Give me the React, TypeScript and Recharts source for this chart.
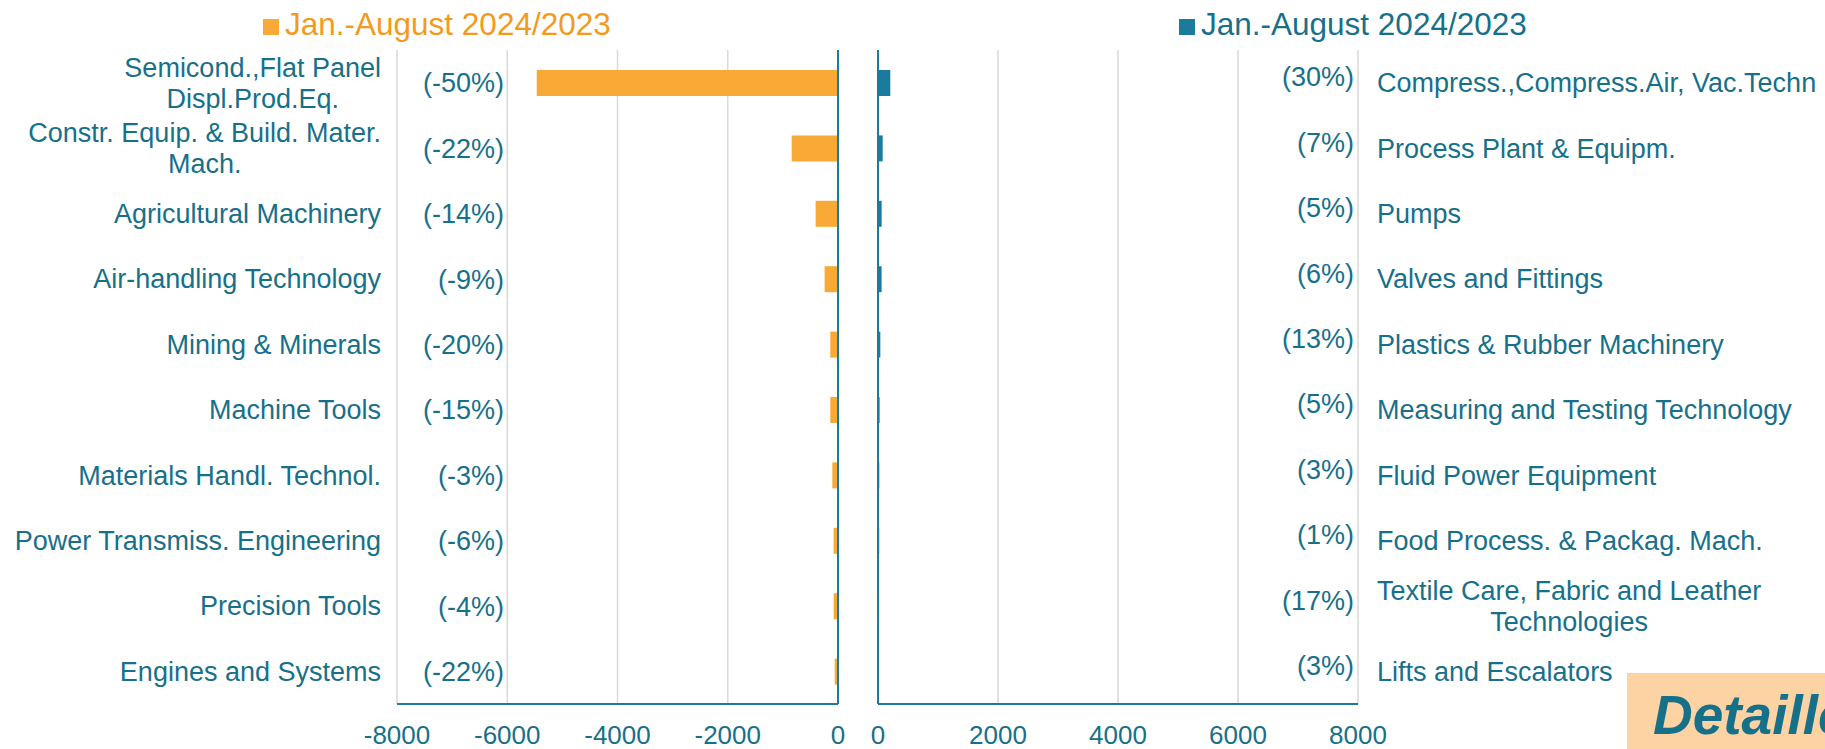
import React from "react";
import {
  BarChart,
  Bar,
  XAxis,
  YAxis,
  CartesianGrid,
  ReferenceLine,
  LabelList,
  Legend,
} from "recharts";

// --- data (values in the chart's own units) ---
const seriesName = "Jan.-August 2024/2023";

const leftCategories = [
  "Semicond.,Flat Panel\nDispl.Prod.Eq.",
  "Constr. Equip. & Build. Mater.\nMach.",
  "Agricultural Machinery",
  "Air-handling Technology",
  "Mining & Minerals",
  "Machine Tools",
  "Materials Handl. Technol.",
  "Power Transmiss. Engineering",
  "Precision Tools",
  "Engines and Systems",
];
const leftValues = [-5465, -840, -406, -243, -140, -140, -103, -80, -79, -60];
const leftChanges = ["(-50%)", "(-22%)", "(-14%)", "(-9%)", "(-20%)", "(-15%)", "(-3%)", "(-6%)", "(-4%)", "(-22%)"];

const rightCategories = [
  "Compress.,Compress.Air, Vac.Techn",
  "Process Plant & Equipm.",
  "Pumps",
  "Valves and Fittings",
  "Plastics & Rubber Machinery",
  "Measuring and Testing Technology",
  "Fluid Power Equipment",
  "Food Process. & Packag. Mach.",
  "Textile Care, Fabric and Leather\nTechnologies",
  "Lifts and Escalators",
];
const rightValues = [205, 78, 61, 60, 39, 27, 22, 20, 18, 15];
const rightChanges = ["(30%)", "(7%)", "(5%)", "(6%)", "(13%)", "(5%)", "(3%)", "(1%)", "(17%)", "(3%)"];

const leftTicks = [-8000, -6000, -4000, -2000, 0];
const rightTicks = [0, 2000, 4000, 6000, 8000];

// --- look ---
const W = 1825;
const H = 749;
const FONT = '"Liberation Sans", Arial, sans-serif';
const ORANGE = "#f9a935";
const ORANGE_TEXT = "#f39a1c";
const TEAL = "#1a7b9c";
const TEXT = "#17708a";
const GRID = "#d9d9d9";
const LABEL_SIZE = 27;
const LINE_H = 31;
const LEGEND_SIZE = 31.5;

// plot boxes (page pixels)
const TOP = 50;
const X_AXIS_H = 45;
const LEFT_PLOT = { x0: 397, x1: 838 };
const RIGHT_PLOT = { x0: 878, x1: 1358 };

const leftData = leftCategories.map((name, i) => ({ name, value: leftValues[i], change: leftChanges[i] }));
const rightData = rightCategories.map((name, i) => ({ name, value: rightValues[i], change: rightChanges[i] }));

let ctx: CanvasRenderingContext2D | null = null;
function textWidth(s: string, size: number) {
  if (!ctx) ctx = document.createElement("canvas").getContext("2d");
  if (!ctx) return s.length * size * 0.5;
  ctx.font = `${size}px ${FONT}`;
  return ctx.measureText(s).width;
}

// multi-line labels are centred line by line, the block is aligned to the axis
function CategoryTick(props: any) {
  const { x, y, payload, side } = props;
  const lines = String(payload.value).split("\n");
  const multi = lines.length > 1;
  const w = Math.max(...lines.map((l) => textWidth(l, LABEL_SIZE)));
  const tx = multi ? (side === "left" ? x - w / 2 : x + w / 2) : x;
  const anchor = multi ? "middle" : side === "left" ? "end" : "start";
  const y0 = y - ((lines.length - 1) * LINE_H) / 2;
  return (
    <text x={tx} y={y0} textAnchor={anchor} fill={TEXT} fontSize={LABEL_SIZE} fontFamily={FONT}>
      {lines.map((l, i) => (
        <tspan key={i} x={tx} dy={i === 0 ? "0.35em" : LINE_H}>
          {l}
        </tspan>
      ))}
    </text>
  );
}

const tickStyle = { fill: TEXT, fontSize: 26, fontFamily: FONT };

export default function App() {
  return (
    <div style={{ position: "relative", width: W, height: H, overflow: "hidden", fontFamily: FONT, background: "#fff" }}>
      <style>{"body{margin:0}"}</style>

      {/* left half: decreases */}
      <div style={{ position: "absolute", left: 0, top: 0 }}>
        <BarChart
          width={W}
          height={H}
          data={leftData}
          layout="vertical"
          margin={{ top: TOP, right: W - LEFT_PLOT.x1, bottom: 0, left: 0 }}
          barCategoryGap={0}
        >
          <CartesianGrid horizontal={false} stroke={GRID} strokeWidth={1.5} />
          <XAxis
            type="number"
            domain={[-8000, 0]}
            ticks={leftTicks}
            interval={0}
            height={X_AXIS_H}
            tickLine={false}
            tickMargin={16}
            axisLine={{ stroke: TEAL, strokeWidth: 2 }}
            tick={tickStyle}
          />
          <YAxis
            type="category"
            dataKey="name"
            width={LEFT_PLOT.x0}
            axisLine={false}
            tickLine={false}
            tickMargin={10}
            interval={0}
            tick={(p: any) => <CategoryTick {...p} side="left" />}
          />
          <ReferenceLine x={0} stroke={TEAL} strokeWidth={2} />
          <Legend
            layout="horizontal"
            verticalAlign="middle"
            align="center"
            iconType="square"
            iconSize={16}
            wrapperStyle={{ top: 6, left: 263, width: "auto", height: "auto", fontSize: LEGEND_SIZE, lineHeight: "36px" }}
            formatter={(v: string) => <span style={{ color: ORANGE_TEXT, marginLeft: 2 }}>{v}</span>}
          />
          <Bar dataKey="value" name={seriesName} fill={ORANGE} barSize={26} isAnimationActive={false}>
            <LabelList
              dataKey="change"
              content={(p: any) => (
                <text
                  x={LEFT_PLOT.x0 + 107}
                  y={Number(p.y) + Number(p.height) / 2}
                  dy="0.35em"
                  textAnchor="end"
                  fill={TEXT}
                  fontSize={LABEL_SIZE}
                  fontFamily={FONT}
                >
                  {p.value}
                </text>
              )}
            />
          </Bar>
        </BarChart>
      </div>

      {/* right half: increases */}
      <div style={{ position: "absolute", left: 0, top: 0 }}>
        <BarChart
          width={W}
          height={H}
          data={rightData}
          layout="vertical"
          margin={{ top: TOP, right: 0, bottom: 0, left: RIGHT_PLOT.x0 }}
          barCategoryGap={0}
        >
          <CartesianGrid horizontal={false} stroke={GRID} strokeWidth={1.5} />
          <XAxis
            type="number"
            domain={[0, 8000]}
            ticks={rightTicks}
            interval={0}
            height={X_AXIS_H}
            tickLine={false}
            tickMargin={16}
            axisLine={{ stroke: TEAL, strokeWidth: 2 }}
            tick={tickStyle}
          />
          <YAxis
            type="category"
            dataKey="name"
            orientation="right"
            width={W - RIGHT_PLOT.x1}
            axisLine={false}
            tickLine={false}
            tickMargin={13}
            interval={0}
            tick={(p: any) => <CategoryTick {...p} side="right" />}
          />
          <ReferenceLine x={0} stroke={TEAL} strokeWidth={2} />
          <Legend
            layout="horizontal"
            verticalAlign="middle"
            align="center"
            iconType="square"
            iconSize={16}
            wrapperStyle={{ top: 6, left: 1179, width: "auto", height: "auto", fontSize: LEGEND_SIZE, lineHeight: "36px" }}
            formatter={(v: string) => <span style={{ color: TEXT, marginLeft: 2 }}>{v}</span>}
          />
          <Bar dataKey="value" name={seriesName} fill={TEAL} barSize={26} isAnimationActive={false}>
            <LabelList
              dataKey="change"
              content={(p: any) => (
                <text
                  x={RIGHT_PLOT.x1 - 4}
                  y={Number(p.y) + Number(p.height) / 2 - 6}
                  dy="0.35em"
                  textAnchor="end"
                  fill={TEXT}
                  fontSize={LABEL_SIZE}
                  fontFamily={FONT}
                >
                  {p.value}
                </text>
              )}
            />
          </Bar>
        </BarChart>
      </div>

      <div
        style={{
          position: "absolute",
          left: 1627,
          top: 673,
          width: W - 1627,
          height: H - 673,
          background: "#fdd3a4",
          color: "#17708a",
          fontWeight: "bold",
          fontStyle: "italic",
          fontSize: 55,
          lineHeight: `${H - 673 + 8}px`,
          paddingLeft: 26,
          boxSizing: "border-box",
          whiteSpace: "nowrap",
          overflow: "hidden",
        }}
      >
        Detailled
      </div>
    </div>
  );
}
